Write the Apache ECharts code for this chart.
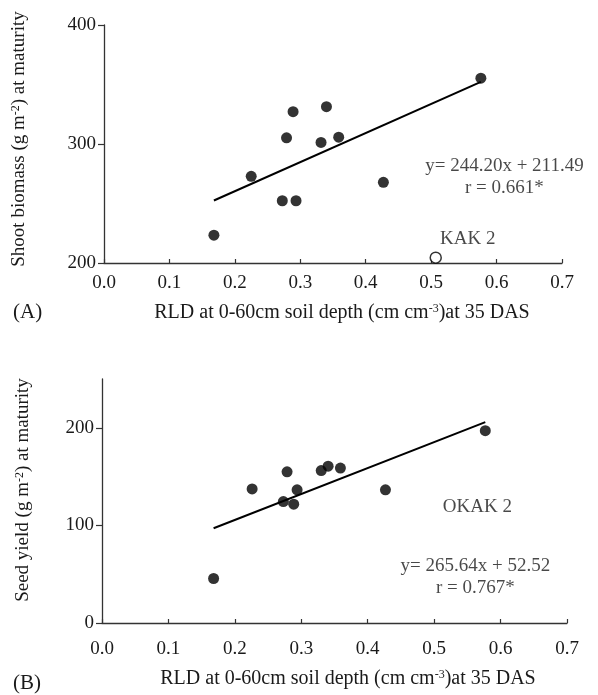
<!DOCTYPE html>
<html><head><meta charset="utf-8">
<script src="https://cdn.jsdelivr.net/npm/echarts@6/dist/echarts.min.js"></script>
<style>html,body{margin:0;padding:0;background:#fff}#c{width:598px;height:695px}</style>
</head><body><div id="c"></div>
<script>
// Panel A: shoot biomass vs RLD
const shootX = [0.168, 0.225, 0.2725, 0.279, 0.289, 0.2935, 0.340, 0.3317, 0.3587, 0.427, 0.576];
const shootY = [223.4, 272.8, 252.3, 305.2, 327.2, 252.3, 331.4, 301.3, 305.7, 267.8, 355.3];
const outlierA = [[0.507, 204.5]];              // KAK 2 (open circle)
const fitA = [[0.168, 252.5], [0.576, 352.2]];  // y = 244.20x + 211.49
// Panel B: seed yield vs RLD
const seedX = [0.168, 0.226, 0.273, 0.2786, 0.2886, 0.2937, 0.330, 0.3404, 0.3589, 0.4267, 0.577];
const seedY = [45.6, 137.4, 124.4, 154.9, 121.7, 136.4, 156.2, 160.7, 158.7, 136.4, 197.0];
const fitB = [[0.168, 97.1], [0.577, 205.8]];   // y = 265.64x + 52.52
// ticks
const yTicksA = [200, 300, 400];
const yTicksB = [0, 100, 200];
const xMin = 0, xMax = 0.7, xStep = 0.1;
// annotations
const eqA = ['y= 244.20x + 211.49', 'r = 0.661*'];
const eqB = ['y= 265.64x + 52.52', 'r = 0.767*'];

const F = 'Liberation Serif';
const C = '#1a1a1a';
const AX = '#333';

function zip(xs, ys) { return xs.map((x, i) => [x, ys[i]]); }

function xAxis(gi, gap, pad, lm) {
  return {
    gridIndex: gi, type: 'value', min: xMin, max: xMax, interval: xStep,
    name: 'RLD at 0-60cm soil depth (cm cm{s|-3})at 35 DAS',
    nameLocation: 'middle', nameGap: gap,
    nameTextStyle: { fontFamily: F, fontSize: 20, color: C, padding: pad,
      rich: { s: { fontFamily: F, fontSize: 12, color: C, verticalAlign: 'top', lineHeight: 13 } } },
    axisLine: { lineStyle: { color: AX, width: 1.3 } },
    axisTick: { inside: true, length: 4, lineStyle: { color: AX, width: 1.2 } },
    axisLabel: { fontFamily: F, fontSize: 19, color: C, margin: lm, formatter: v => v.toFixed(1) },
    splitLine: { show: false }
  };
}
function yAxis(gi, min, max, ticks, name, gap, pad) {
  return {
    gridIndex: gi, type: 'value', min: min, max: max, interval: 100,
    name: name, nameLocation: 'middle', nameRotate: 90, nameGap: gap,
    nameTextStyle: { fontFamily: F, fontSize: 19, color: C, padding: pad,
      rich: { s: { fontFamily: F, fontSize: 12, color: C, verticalAlign: 'top', lineHeight: 13 } } },
    axisLine: { lineStyle: { color: AX, width: 1.3 } },
    axisTick: { inside: false, length: 6, customValues: ticks, lineStyle: { color: AX, width: 1.2 } },
    axisLabel: { fontFamily: F, fontSize: 19, color: C, margin: 8, customValues: ticks },
    splitLine: { show: false }
  };
}
function textSeries(xi, pt, lines) {
  return {
    type: 'scatter', xAxisIndex: xi, yAxisIndex: xi, data: [pt], symbolSize: 0, silent: true,
    label: { show: true, position: 'inside', formatter: lines.join('\n'),
      fontFamily: F, fontSize: 19, color: C, lineHeight: 22, align: 'center' }
  };
}

const chart = echarts.init(document.getElementById('c'), null, { renderer: 'canvas' });
chart.setOption({
  animation: false,
  backgroundColor: '#fff',
  grid: [
    { left: 104, top: 25, width: 458, height: 238 },
    { left: 102, top: 379, width: 465, height: 244 }
  ],
  xAxis: [xAxis(0, 40, [0, 0, 0, 18], 11), xAxis(1, 46, [0, 0, 0, 27], 17)],
  yAxis: [
    yAxis(0, 200, 400, yTicksA, 'Shoot biomass (g m{s|-2}) at maturity', 75, [0, 0, 0, 10]),
    yAxis(1, 0, 250, yTicksB, 'Seed yield (g m{s|-2}) at maturity', 69, [0, 0, 0, 22])
  ],
  graphic: [
    { type: 'text', left: 13, top: 302, style: { text: '(A)', font: '21px "Liberation Serif"', fill: C } },
    { type: 'text', left: 13, top: 673, style: { text: '(B)', font: '21px "Liberation Serif"', fill: C } }
  ],
  series: [
    { type: 'line', xAxisIndex: 0, yAxisIndex: 0, data: fitA, symbol: 'none', lineStyle: { color: '#000', width: 2 } },
    { type: 'scatter', xAxisIndex: 0, yAxisIndex: 0, data: zip(shootX, shootY), symbolSize: 11, itemStyle: { color: '#000' } },
    { type: 'scatter', xAxisIndex: 0, yAxisIndex: 0, data: outlierA, symbolSize: 11, itemStyle: { color: '#fff', borderColor: '#000', borderWidth: 1.5 } },
    textSeries(0, [0.612, 272.6], eqA),
    textSeries(0, [0.556, 220.3], ['KAK 2']),
    { type: 'line', xAxisIndex: 1, yAxisIndex: 1, data: fitB, symbol: 'none', lineStyle: { color: '#000', width: 2 } },
    { type: 'scatter', xAxisIndex: 1, yAxisIndex: 1, data: zip(seedX, seedY), symbolSize: 11, itemStyle: { color: '#000' } },
    textSeries(1, [0.562, 47], eqB),
    textSeries(1, [0.565, 118.9], ['OKAK 2'])
  ]
});
</script>
</body></html>
